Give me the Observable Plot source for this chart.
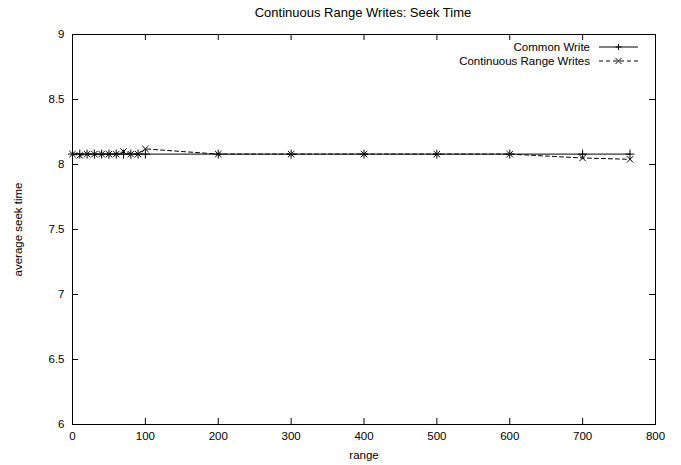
<!DOCTYPE html>
<html>
<head>
<meta charset="utf-8">
<script src="https://cdn.jsdelivr.net/npm/d3@7"></script>
<script src="https://cdn.jsdelivr.net/npm/@observablehq/plot@0.6"></script>
<style>
  html, body { margin: 0; padding: 0; background: white; }
  #wrap { position: relative; width: 681px; height: 465px; font-family: "Liberation Sans", Arial, sans-serif; }
  #title { height: 25px; width: 681px; font-size: 13px; line-height: 26px; text-align: center; padding-left: 45px; box-sizing: border-box; color: black; }
  #legend { position: absolute; left: 0; top: 0; pointer-events: none; }
  #legend text { font-family: "Liberation Sans", Arial, sans-serif; font-size: 11.5px; fill: black; }
</style>
</head>
<body>
<div id="wrap">
  <div id="title">Continuous Range Writes: Seek Time</div>
  <div id="chart"></div>
  <svg id="legend" width="681" height="465"></svg>
</div>
<script>
// ---- data ----
const ranges = [0, 10, 20, 30, 40, 50, 60, 70, 80, 90, 100, 200, 300, 400, 500, 600, 700, 765];
const commonWrite = [8.08, 8.08, 8.08, 8.08, 8.08, 8.08, 8.08, 8.08, 8.08, 8.08, 8.08, 8.08, 8.08, 8.08, 8.08, 8.08, 8.08, 8.08];
const continuousRangeWrites = [8.08, 8.07, 8.08, 8.08, 8.08, 8.08, 8.08, 8.10, 8.08, 8.08, 8.12, 8.08, 8.08, 8.08, 8.08, 8.08, 8.05, 8.04];
const seriesNames = ["Common Write", "Continuous Range Writes"];
const xTicks = [0, 100, 200, 300, 400, 500, 600, 700, 800];
const yTicks = [6, 6.5, 7, 7.5, 8, 8.5, 9];
const xLabel = "range";
const yLabel = "average seek time";

const common = ranges.map((x, i) => ({x, y: commonWrite[i]}));
const continuous = ranges.map((x, i) => ({x, y: continuousRangeWrites[i]}));

const W = 681, H = 440, mT = 9, mB = 41, mL = 72, mR = 26;
const plotH = H - mT - mB, plotW = W - mL - mR;
const tl = 6;

const chart = Plot.plot({
  width: W, height: H,
  marginTop: mT, marginBottom: mB, marginLeft: mL, marginRight: mR,
  style: {fontFamily: "'Liberation Sans', Arial, sans-serif", fontSize: "11.5px", background: "white", color: "black", overflow: "visible"},
  x: {domain: [0, 800]},
  y: {domain: [6, 9]},
  marks: [
    // inward ticks on all four sides
    Plot.tickX(xTicks, {x: d => d, insetTop: plotH - tl, stroke: "black"}),
    Plot.tickX(xTicks, {x: d => d, insetBottom: plotH - tl, stroke: "black"}),
    Plot.tickY(yTicks, {y: d => d, insetRight: plotW - tl, stroke: "black"}),
    Plot.tickY(yTicks, {y: d => d, insetLeft: plotW - tl, stroke: "black"}),
    Plot.axisX(xTicks, {tickSize: 0, tickPadding: 7, label: null, tickFormat: d => String(d)}),
    Plot.axisY(yTicks, {tickSize: 0, tickPadding: 8, label: null, tickFormat: d => String(d)}),
    Plot.text([xLabel], {frameAnchor: "bottom", dy: 34, fill: "black"}),
    Plot.text([yLabel], {frameAnchor: "left", textAnchor: "middle", rotate: -90, dx: -54, fill: "black"}),
    // series
    Plot.line(common, {x: "x", y: "y", stroke: "black", strokeWidth: 1}),
    Plot.dot(common, {x: "x", y: "y", symbol: "plus", r: 3, stroke: "black", strokeWidth: 1}),
    Plot.line(continuous, {x: "x", y: "y", stroke: "black", strokeWidth: 1, strokeDasharray: "4,3"}),
    Plot.dot(continuous, {x: "x", y: "y", symbol: "times", r: 3, stroke: "black", strokeWidth: 1}),
    Plot.frame({stroke: "black"})
  ]
});
document.getElementById("chart").appendChild(chart);

// legend (top-right inside the frame)
const lg = d3.select("#legend");
const rows = [
  {name: seriesNames[0], y: 47, dash: null, sym: "plus"},
  {name: seriesNames[1], y: 61, dash: "4,3", sym: "times"}
];
rows.forEach(r => {
  lg.append("text").attr("x", 590).attr("y", r.y).attr("dy", "0.35em").attr("text-anchor", "end").text(r.name);
  lg.append("line").attr("x1", 599).attr("x2", 638).attr("y1", r.y).attr("y2", r.y)
    .attr("stroke", "black").attr("stroke-dasharray", r.dash);
  const cx = 618.5, s = 3;
  if (r.sym === "plus") {
    lg.append("path").attr("d", `M${cx - s},${r.y}H${cx + s}M${cx},${r.y - s}V${r.y + s}`).attr("stroke", "black").attr("fill", "none");
  } else {
    lg.append("path").attr("d", `M${cx - s},${r.y - s}L${cx + s},${r.y + s}M${cx - s},${r.y + s}L${cx + s},${r.y - s}`).attr("stroke", "black").attr("fill", "none");
  }
});
</script>
</body>
</html>
